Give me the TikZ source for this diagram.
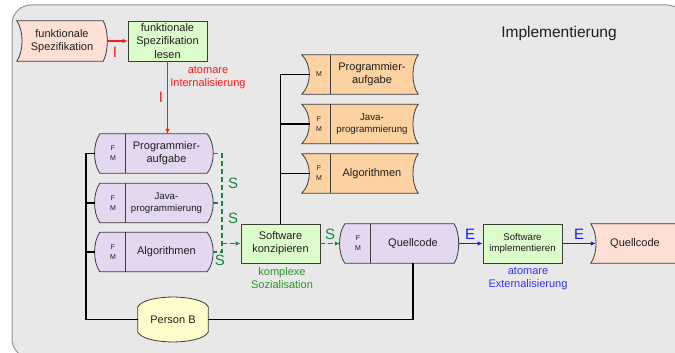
\documentclass[tikz,border=0pt]{standalone}
\usepackage{fontspec}
\setmainfont{Liberation Sans}
\usetikzlibrary{calc,arrows.meta}
\definecolor{framebg}{RGB}{232,232,232}
\definecolor{framegray}{RGB}{150,150,150}
\definecolor{salmon}{RGB}{253,224,212}
\definecolor{gbox}{RGB}{220,252,204}
\definecolor{purp}{RGB}{228,216,240}
\definecolor{orng}{RGB}{252,210,162}
\definecolor{yell}{RGB}{255,252,204}
\definecolor{sgreen}{RGB}{22,135,58}
\definecolor{lgreen}{RGB}{40,150,40}
\definecolor{ired}{RGB}{250,25,25}
\definecolor{eblue}{RGB}{25,25,240}
\definecolor{tblue}{RGB}{50,50,250}
\definecolor{txtc}{RGB}{30,30,30}
\definecolor{olc}{RGB}{60,60,60}
\newcommand\sidedshape[4]{%
 \draw[shapeline,fill=#4] (#1.north west) -- (#1.north east)
   .. controls ($(#1.north east)!0.25!(#1.south east)+(#3,0)$) and ($(#1.north east)!0.75!(#1.south east)+(#3,0)$) .. (#1.south east)
   -- (#1.south west)
   .. controls ($(#1.north west)!0.75!(#1.south west)-(#2,0)$) and ($(#1.north west)!0.25!(#1.south west)-(#2,0)$) .. (#1.north west) -- cycle;}
\newcommand\divline[2]{\draw[shapeline] ($(#1.north west)+(#2,0)$) -- ($(#1.south west)+(#2,0)$);}
\tikzset{
  shapeline/.style={draw=olc,line width=0.8pt},
  area/.style={rectangle,draw=none,inner sep=0pt},
  txt/.style={align=center,inner sep=0pt,text=txtc},
  big/.style={font=\fontsize{11}{13}\selectfont},
  mid/.style={font=\fontsize{9.7}{11.5}\selectfont},
  tiny/.style={font=\fontsize{7}{10}\selectfont},
  gboxst/.style={rectangle,draw=olc,line width=0.8pt,fill=gbox,inner sep=1pt,align=center,text=txtc},
  conn/.style={draw=black,line width=1.1pt},
  sdash/.style={draw=sgreen,line width=1.8pt,dash pattern=on 5pt off 3pt},
  lbl/.style={inner sep=0pt,font=\fontsize{15}{15}\selectfont},
  tip/.style={-{Latex[length=5pt,width=4.5pt]}},
  redline/.style={draw=ired,line width=1.4pt,tip},
  blueline/.style={draw=eblue,line width=1.4pt,tip}
}
\begin{document}
\begin{tikzpicture}[x=1pt,y=-1pt]
\useasboundingbox (0,0) rectangle (675,353);
\fill[white] (0,0) rectangle (675,353);
\draw[draw=framegray,fill=framebg,line width=1pt,rounded corners=19pt] (12,5) rectangle (686,358);

\node[txt,font=\fontsize{15.5}{18}\selectfont] (impl) at (559,33) {Implementierung};

% top row
\node[area,minimum width=86pt,minimum height=40pt] (spec) at (60,41) {};
\sidedshape{spec}{-7}{5.5}{salmon}
\node[txt,big] (spect) at (62,41) {funktionale\\Spezifikation};
\node[gboxst,big,font=\fontsize{11}{13.5}\selectfont,minimum width=79pt,minimum height=40pt] (les) at (167.5,41) {funktionale\\Spezifikation\\lesen};

% purple stack
\foreach \n/\y in {p1/153.5,p2/203,p3/252}{
  \node[area,minimum width=107pt,minimum height=39pt] (\n) at (153.5,\y) {};
  \sidedshape{\n}{7}{8}{purp}
  \divline{\n}{26}
  \node[txt,tiny] (\n f) at (113,\y) {F\\M};
}
\node[txt,big] (p1t) at (166.5,153.5) {Programmier-\\aufgabe};
\node[txt,mid] (p2t) at (166.5,203) {Java-\\programmierung};
\node[txt,big] (p3t) at (166.5,252) {Algorithmen};

% orange stack
\foreach \n/\y in {o1/74.5,o2/124,o3/173.5}{
  \node[area,minimum width=116pt,minimum height=39pt] (\n) at (360,\y) {};
  \sidedshape{\n}{-10}{-7}{orng}
  \divline{\n}{29}
}
\node[txt,tiny] (o1f) at (319,74.5) {M};
\node[txt,tiny] (o2f) at (319,124) {F\\M};
\node[txt,tiny] (o3f) at (319,173.5) {F\\M};
\node[txt,big] (o1t) at (372,74.5) {Programmier-\\aufgabe};
\node[txt,mid] (o2t) at (372,124) {Java-\\programmierung};
\node[txt,big] (o3t) at (372,173.5) {Algorithmen};

% middle row
\node[gboxst,big,minimum width=79pt,minimum height=39pt] (sk) at (280.5,243.5) {Software\\konzipieren};
\node[area,minimum width=109pt,minimum height=39pt] (q1) at (399.5,243.5) {};
\sidedshape{q1}{7}{6}{purp}
\divline{q1}{26}
\node[txt,tiny] (q1f) at (358,243.5) {F\\M};
\node[txt,big] (q1t) at (413,243.5) {Quellcode};
\node[gboxst,mid,minimum width=79pt,minimum height=39pt] (si) at (522.5,243.5) {Software\\implementieren};
\node[area,minimum width=99pt,minimum height=39pt] (q2) at (640.5,243.5) {};
\sidedshape{q2}{-7}{6}{salmon}
\node[txt,big] (q2t) at (635,243.5) {Quellcode};

% Person B
\node[area,minimum width=70pt,minimum height=25pt] (pb) at (173,319.5) {};
\draw[shapeline,fill=yell] (pb.north west) .. controls +(7,-13) and +(-7,-13) .. (pb.north east)
  -- (pb.south east) .. controls +(-7,13) and +(7,13) .. (pb.south west) -- cycle;
\node[txt,big] (pbt) at (173,319.5) {Person B};

% black connectors
\coordinate (lx) at (86,0);
\draw[conn] ([xshift=-5]p1.west) -- (p1.west -| lx) -- (pb.west -| lx) -- (pb.west);
\draw[conn] ([xshift=-5]p2.west) -- (p2.west -| lx);
\draw[conn] ([xshift=-5]p3.west) -- (p3.west -| lx);
\draw[conn] (pb.east) -| (q1t |- q1.south);
\draw[conn] (sk.north) -- (sk.north |- o1.west) -- ([xshift=8]o1.west);
\draw[conn] (sk.north |- o2.west) -- ([xshift=8]o2.west);
\draw[conn] (sk.north |- o3.west) -- ([xshift=8]o3.west);

% red
\draw[redline] ([xshift=4]spec.east) -- (les.west);
\draw[redline] (les.south) -- (les.south |- p1.north);
\node[lbl,text=ired] (i1) at (115,52) {I};
\node[lbl,text=ired] (i2) at (161,97) {I};
\node[txt,big,text=ired] (aint) at (208,78) {atomare\\Internalisierung};

% green dashed
\coordinate (dj) at (222,243.5);
\draw[sdash] ([xshift=6]p1.east) -- (p1.east -| dj) -- (p3.east -| dj) -- ([xshift=6]p3.east);
\draw[sdash] ([xshift=6]p2.east) -- (p2.east -| dj);
\draw[sdash,tip,fill=sgreen] (dj) -- (sk.west);
\draw[sdash,tip,fill=sgreen] (sk.east) -- ([xshift=-5]q1.west);
\node[lbl,text=sgreen] (s1) at (233,183) {S};
\node[lbl,text=sgreen] (s2) at (233,218) {S};
\node[lbl,text=sgreen] (s3) at (220,260) {S};
\node[lbl,text=sgreen] (s4) at (330,234) {S};
\node[txt,big,text=lgreen] (ksoz) at (282,278.5) {komplexe\\Sozialisation};

% blue
\draw[blueline] ([xshift=4.5]q1.east) -- (si.west);
\draw[blueline] (si.east) -- ([xshift=5]q2.west);
\node[lbl,text=eblue] (e1) at (470,234) {E};
\node[lbl,text=eblue] (e2) at (579,234) {E};
\node[txt,big,text=tblue] (aext) at (528,278.5) {atomare\\Externalisierung};
\end{tikzpicture}
\end{document}
